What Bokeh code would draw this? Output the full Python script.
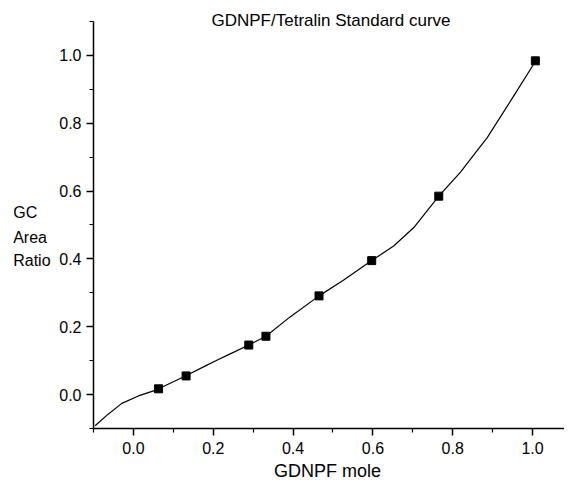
from bokeh.plotting import figure
from bokeh.models import Range1d, FixedTicker, Label, NumeralTickFormatter
from bokeh.embed import file_html
from bokeh.resources import INLINE

# ---- data ----
title_text = "GDNPF/Tetralin Standard curve"
x_label_text = "GDNPF mole"
y_label_lines = ["GC", "Area", "Ratio"]

point_x = [0.063, 0.132, 0.289, 0.332, 0.465, 0.597, 0.765, 1.007]
point_y = [0.017, 0.055, 0.146, 0.172, 0.291, 0.395, 0.585, 0.984]

curve_x = [-0.096, -0.0625, -0.029, 0.0125, 0.058, 0.129, 0.183, 0.209, 0.2425,
           0.289, 0.332, 0.3925, 0.465, 0.526, 0.597, 0.652, 0.7025, 0.765,
           0.8195, 0.861, 0.886, 0.951, 1.001, 1.007]
curve_y = [-0.092, -0.057, -0.026, -0.004, 0.014, 0.054, 0.086, 0.101, 0.120,
           0.146, 0.172, 0.229, 0.291, 0.337, 0.395, 0.438, 0.4925, 0.585,
           0.656, 0.719, 0.757, 0.877, 0.971, 0.984]

axis_min, axis_max = -0.1, 1.1
major_ticks = [0.0, 0.2, 0.4, 0.6, 0.8, 1.0]
minor_ticks = [-0.1, 0.1, 0.3, 0.5, 0.7, 0.9, 1.1]

FONT = "Liberation Sans"

# the frame covers the whole canvas so that the titles (drawn as labels) are not clipped;
# the axes are pinned at -0.1 and limited to the -0.1..1.1 span
p = figure(width=564, height=481, output_backend="svg", toolbar_location=None,
           x_range=Range1d(-0.333, 1.080), y_range=Range1d(-0.2563, 1.1619),
           min_border_left=0, min_border_right=0, min_border_top=0,
           min_border_bottom=0)
p.outline_line_color = None
p.xgrid.grid_line_color = None
p.ygrid.grid_line_color = None
p.background_fill_color = "white"
p.border_fill_color = "white"

for ax in (p.xaxis[0], p.yaxis[0]):
    ax.fixed_location = axis_min
    ax.bounds = (axis_min, axis_max)
    ax.ticker = FixedTicker(ticks=major_ticks, minor_ticks=minor_ticks)
    ax.formatter = NumeralTickFormatter(format="0.0")
    ax.axis_line_color = "black"
    ax.axis_line_width = 1.5
    ax.major_tick_line_color = "black"
    ax.major_tick_line_width = 1.5
    ax.minor_tick_line_color = "black"
    ax.minor_tick_line_width = 1.2
    ax.major_tick_in = 0
    ax.major_tick_out = 7
    ax.minor_tick_in = 0
    ax.minor_tick_out = 4
    ax.major_label_text_font = FONT
    ax.major_label_text_font_size = "16px"
    ax.major_label_text_color = "black"

p.xaxis[0].major_label_standoff = 7
p.yaxis[0].major_label_standoff = 5

p.line(curve_x, curve_y, line_color="black", line_width=1.2)
p.scatter(point_x, point_y, marker="square", size=8, fill_color="black",
          line_color="black")

p.add_layout(Label(x=0.495, y=1.102, text=title_text, text_align="center",
                   text_baseline="alphabetic", text_font=FONT,
                   text_font_size="17px", text_color="black"))
p.add_layout(Label(x=0.486, y=-0.2268, text=x_label_text, text_align="center",
                   text_baseline="alphabetic", text_font=FONT,
                   text_font_size="18px", text_color="black"))
for line_text, yy in zip(y_label_lines, [0.538, 0.464, 0.395]):
    p.add_layout(Label(x=-0.3012, y=yy, text=line_text, text_align="left",
                       text_baseline="alphabetic", text_font=FONT,
                       text_font_size="16px", text_color="black"))

open("out.html", "w").write(file_html(p, INLINE))
